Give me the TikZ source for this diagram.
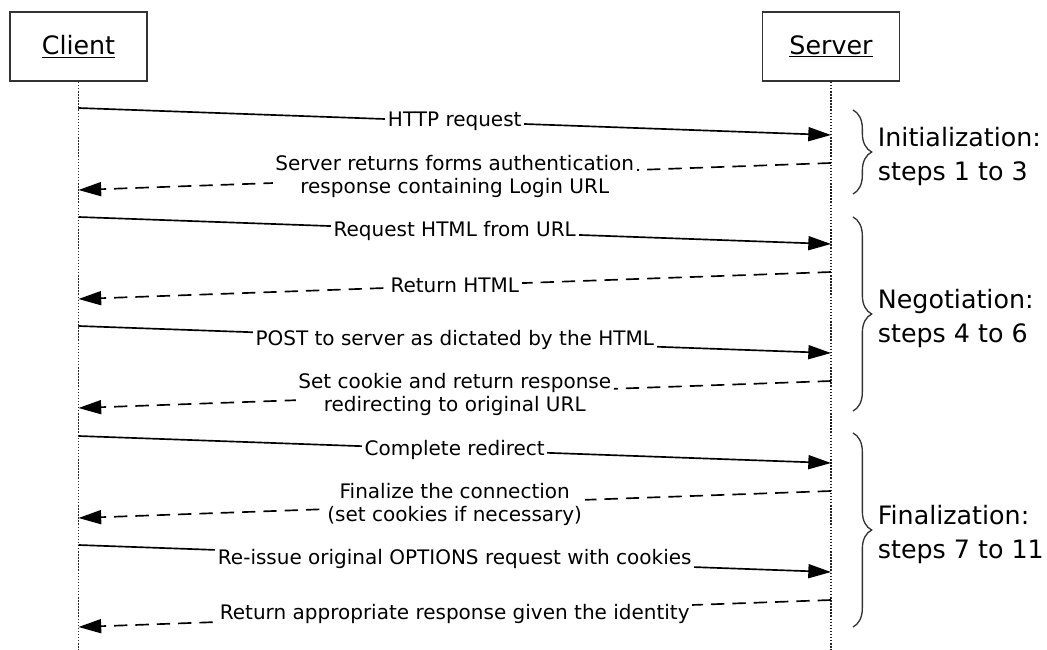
\documentclass[tikz,border=0pt]{standalone}
\usepackage{fontspec}
\setmainfont{DejaVu Sans}
\usetikzlibrary{arrows.meta, decorations.pathreplacing}

\begin{document}
\begin{tikzpicture}[
    x=0.75pt, y=-0.75pt,
    actor/.style={draw=black!80, line width=1.3pt,
                  minimum width=102.75pt, minimum height=51.75pt,
                  font=\fontsize{19}{23}\selectfont},
    lifeline/.style={draw=black!85, line width=1.3pt, dash pattern=on 1.1pt off 1.2pt},
    call/.style={draw=black, line width=1.25pt, -{Triangle[length=17pt, width=10.5pt]}},
    reply/.style={call, dash pattern=on 10pt off 6pt},
    msglabel/.style={fill=white, inner sep=2pt, align=center,
                     font=\fontsize{15}{17.5}\selectfont},
    phasebrace/.style={draw=black!80, line width=1pt, decorate,
                       decoration={brace, amplitude=14pt}},
    phase/.style={anchor=west, align=left, inner sep=2pt,
                  font=\fontsize{19}{25.5}\selectfont}
  ]
    \useasboundingbox (0,0) rectangle (1047,650);

    \node[actor] (client) at (78.5,46.5) {\underline{Client}};
    \node[actor] (server) at (831,46.5) {\underline{Server}};
    \coordinate (cend) at (78.5,650);
    \coordinate (send) at (831,650);
    \draw[lifeline] (client.south) -- (cend);
    \draw[lifeline] (server.south) -- (send);

    \coordinate (c1) at (78.5,108);  \coordinate (s1) at (831,135);
    \coordinate (s2) at (831,163);   \coordinate (c2) at (78.5,190);
    \coordinate (c3) at (78.5,217);  \coordinate (s3) at (831,244);
    \coordinate (s4) at (831,272);   \coordinate (c4) at (78.5,299);
    \coordinate (c5) at (78.5,326);  \coordinate (s5) at (831,353);
    \coordinate (s6) at (831,381);   \coordinate (c6) at (78.5,408);
    \coordinate (c7) at (78.5,436);  \coordinate (s7) at (831,463);
    \coordinate (s8) at (831,491);   \coordinate (c8) at (78.5,518);
    \coordinate (c9) at (78.5,545);  \coordinate (s9) at (831,572);
    \coordinate (s10) at (831,600);  \coordinate (c10) at (78.5,627);

    \draw[call] (c1) -- node[msglabel] {HTTP request} (s1);
    \draw[reply] (s2) -- node[msglabel] {Server returns forms authentication\\
      response containing Login URL} (c2);
    \draw[call] (c3) -- node[msglabel] {Request HTML from URL} (s3);
    \draw[reply] (s4) -- node[msglabel] {Return HTML} (c4);
    \draw[call] (c5) -- node[msglabel] {POST to server as dictated by the HTML} (s5);
    \draw[reply] (s6) -- node[msglabel] {Set cookie and return response\\
      redirecting to original URL} (c6);
    \draw[call] (c7) -- node[msglabel] {Complete redirect} (s7);
    \draw[reply] (s8) -- node[msglabel] {Finalize the connection\\
      (set cookies if necessary)} (c8);
    \draw[call] (c9) -- node[msglabel] {Re-issue original OPTIONS request with cookies} (s9);
    \draw[reply] (s10) -- node[msglabel] {Return appropriate response given the identity} (c10);

    \coordinate (init-top) at (853,110);  \coordinate (init-bot) at (853,194);
    \coordinate (nego-top) at (853,217);  \coordinate (nego-bot) at (853,411);
    \coordinate (fin-top) at (853,433);   \coordinate (fin-bot) at (853,627);
    \draw[phasebrace] (init-top) -- (init-bot);
    \draw[phasebrace] (nego-top) -- (nego-bot);
    \draw[phasebrace] (fin-top) -- (fin-bot);

    \node[phase] (init) at (875,157) {Initialization:\\steps 1 to 3};
    \node[phase] (nego) at (875,319) {Negotiation:\\steps 4 to 6};
    \node[phase] (fin) at (875,535) {Finalization:\\steps 7 to 11};
  \end{tikzpicture}
\end{document}
